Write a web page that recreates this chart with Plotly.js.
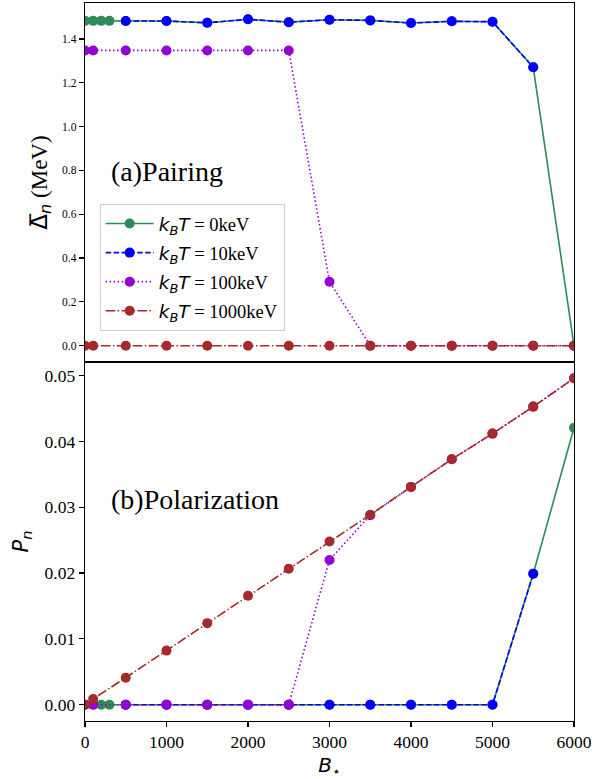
<!DOCTYPE html>
<html>
<head>
<meta charset="utf-8">
<script src="https://cdn.plot.ly/plotly-3.0.1.min.js"></script>
<style>html,body{margin:0;padding:0;background:#fff;}</style>
</head>
<body>
<div id="chart" style="width:607px;height:779px;"></div>
<script>
// ---- data ----
const B_T0 = [0,100,200,300,500,1000,1500,2000,2500,3000,3500,4000,4500,5000,5500,6000];
const gap_T0 = [1.483,1.483,1.483,1.483,1.482,1.482,1.474,1.490,1.477,1.488,1.485,1.473,1.481,1.479,1.271,0.0];
const pol_T0 = [0,0,0,0,0,0,0,0,0,0,0,0,0,0,0.0199,0.0421];

const B_T10 = [500,1000,1500,2000,2500,3000,3500,4000,4500,5000,5500];
const gap_T10 = [1.482,1.482,1.474,1.490,1.477,1.488,1.485,1.473,1.481,1.479,1.271];
const pol_T10 = [0,0,0,0,0,0,0,0,0,0,0.0199];

const B_T100 = [0,100,500,1000,1500,2000,2500,3000,3500,4000,4500,5000,5500,6000];
const gap_T100 = [1.348,1.348,1.348,1.348,1.348,1.348,1.348,0.292,0,0,0,0,0,0];
const pol_T100 = [0,0,0,0,0,0,0,0.0220,0.0288,0.0331,0.0373,0.0412,0.0453,0.0496];

const B_T1000 = [0,100,500,1000,1500,2000,2500,3000,3500,4000,4500,5000,5500,6000];
const gap_T1000 = [0,0,0,0,0,0,0,0,0,0,0,0,0,0];
const pol_T1000 = [0,0.00087,0.00411,0.00822,0.01239,0.01655,0.02065,0.0248,0.02887,0.0331,0.0373,0.0412,0.0453,0.0496];

const temps = ['0','10','100','1000'];
const xTicks = [0,1000,2000,3000,4000,5000,6000];
const gapTicks = [0,0.2,0.4,0.6,0.8,1.0,1.2,1.4];
const polTicks = [0,0.01,0.02,0.03,0.04,0.05];

// ---- styling ----
const colors = ['#2e8b57','#0000ff','#9400d3','#a52a2a'];
const dashes = ['solid','5.5px,2.4px','1.5px,2.5px','9.6px,2.4px,1.5px,2.4px'];
const series = [
  {B:B_T0, gap:gap_T0, pol:pol_T0},
  {B:B_T10, gap:gap_T10, pol:pol_T10},
  {B:B_T100, gap:gap_T100, pol:pol_T100},
  {B:B_T1000, gap:gap_T1000, pol:pol_T1000}
];
const SANS = 'DejaVu Sans';
const SERIF = 'Liberation Serif, Times New Roman, serif';

const traces = [];
series.forEach((s,i)=>{
  const name = '<span style="font-family:DejaVu Sans"><i>k</i><sub><i>B</i></sub><i>T</i></span> = ' + temps[i] + 'keV';
  const common = {
    mode:'lines+markers',
    line:{color:colors[i], width:1.6, dash:dashes[i]},
    marker:{color:colors[i], size:10},
    name:name, legendgroup:'g'+i
  };
  traces.push(Object.assign({}, common, {x:s.B, y:s.gap, xaxis:'x2', yaxis:'y2', showlegend:true}));
  traces.push(Object.assign({}, common, {x:s.B, y:s.pol, xaxis:'x', yaxis:'y', showlegend:false}));
});

const layout = {
  width:607, height:779,
  margin:{l:85, r:33, t:3, b:58},
  paper_bgcolor:'#fff', plot_bgcolor:'#fff',
  font:{family:SERIF, color:'#000'},
  showlegend:true,
  legend:{
    x:0.03, y:0.72, xanchor:'left', yanchor:'top',
    bgcolor:'rgba(255,255,255,0.8)', bordercolor:'#cccccc', borderwidth:1,
    font:{family:SERIF, size:18.5, color:'#000'},
    tracegroupgap:2, itemwidth:48
  },
  xaxis:{
    domain:[0,1], range:[0,6000], anchor:'y',
    tickvals:xTicks, ticktext:xTicks.map(String),
    ticks:'outside', ticklen:5, tickwidth:1.2, tickcolor:'#000',
    showline:true, mirror:true, linecolor:'#000', linewidth:1.3,
    showgrid:false, zeroline:false,
    tickfont:{family:SERIF, size:17.5},
    title:{text:'<i>B</i><sub>⋆</sub>', font:{family:SANS, size:20}, standoff:6}
  },
  xaxis2:{
    domain:[0,1], range:[0,6000], anchor:'y2', matches:'x',
    showticklabels:false, ticks:'',
    showline:true, mirror:true, linecolor:'#000', linewidth:1.3,
    showgrid:false, zeroline:false
  },
  yaxis:{
    domain:[0,0.5], range:[-0.00248,0.05208], anchor:'x',
    tickvals:polTicks, ticktext:polTicks.map(v=>v.toFixed(2)),
    ticks:'outside', ticklen:5, tickwidth:1.2, tickcolor:'#000',
    showline:true, mirror:true, linecolor:'#000', linewidth:1.3,
    showgrid:false, zeroline:false,
    tickfont:{family:SERIF, size:17.5},
    title:{text:'<i>P</i><sub><i>n</i></sub>', font:{family:SANS, size:21}, standoff:10}
  },
  yaxis2:{
    domain:[0.5,1], range:[-0.0745,1.5645], anchor:'x2',
    tickvals:gapTicks, ticktext:gapTicks.map(v=>v.toFixed(1)),
    ticks:'outside', ticklen:5, tickwidth:1.2, tickcolor:'#000',
    showline:true, mirror:true, linecolor:'#000', linewidth:1.3,
    showgrid:false, zeroline:false,
    tickfont:{family:SERIF, size:11.5},
    title:{text:'<span style="font-family:DejaVu Sans">Δ&#773;<sub><i>n</i></sub></span> (MeV)', font:{family:SERIF, size:23}, standoff:8}
  },
  annotations:[
    {text:'(a)Pairing', xref:'paper', yref:'paper', x:0.049, y:0.765, xanchor:'left', yanchor:'middle',
     showarrow:false, font:{family:SERIF, size:28, color:'#000'}},
    {text:'(b)Polarization', xref:'paper', yref:'paper', x:0.049, y:0.308, xanchor:'left', yanchor:'middle',
     showarrow:false, font:{family:SERIF, size:28, color:'#000'}}
  ]
};

Plotly.newPlot('chart', traces, layout, {staticPlot:true, displayModeBar:false});
</script>
</body>
</html>
